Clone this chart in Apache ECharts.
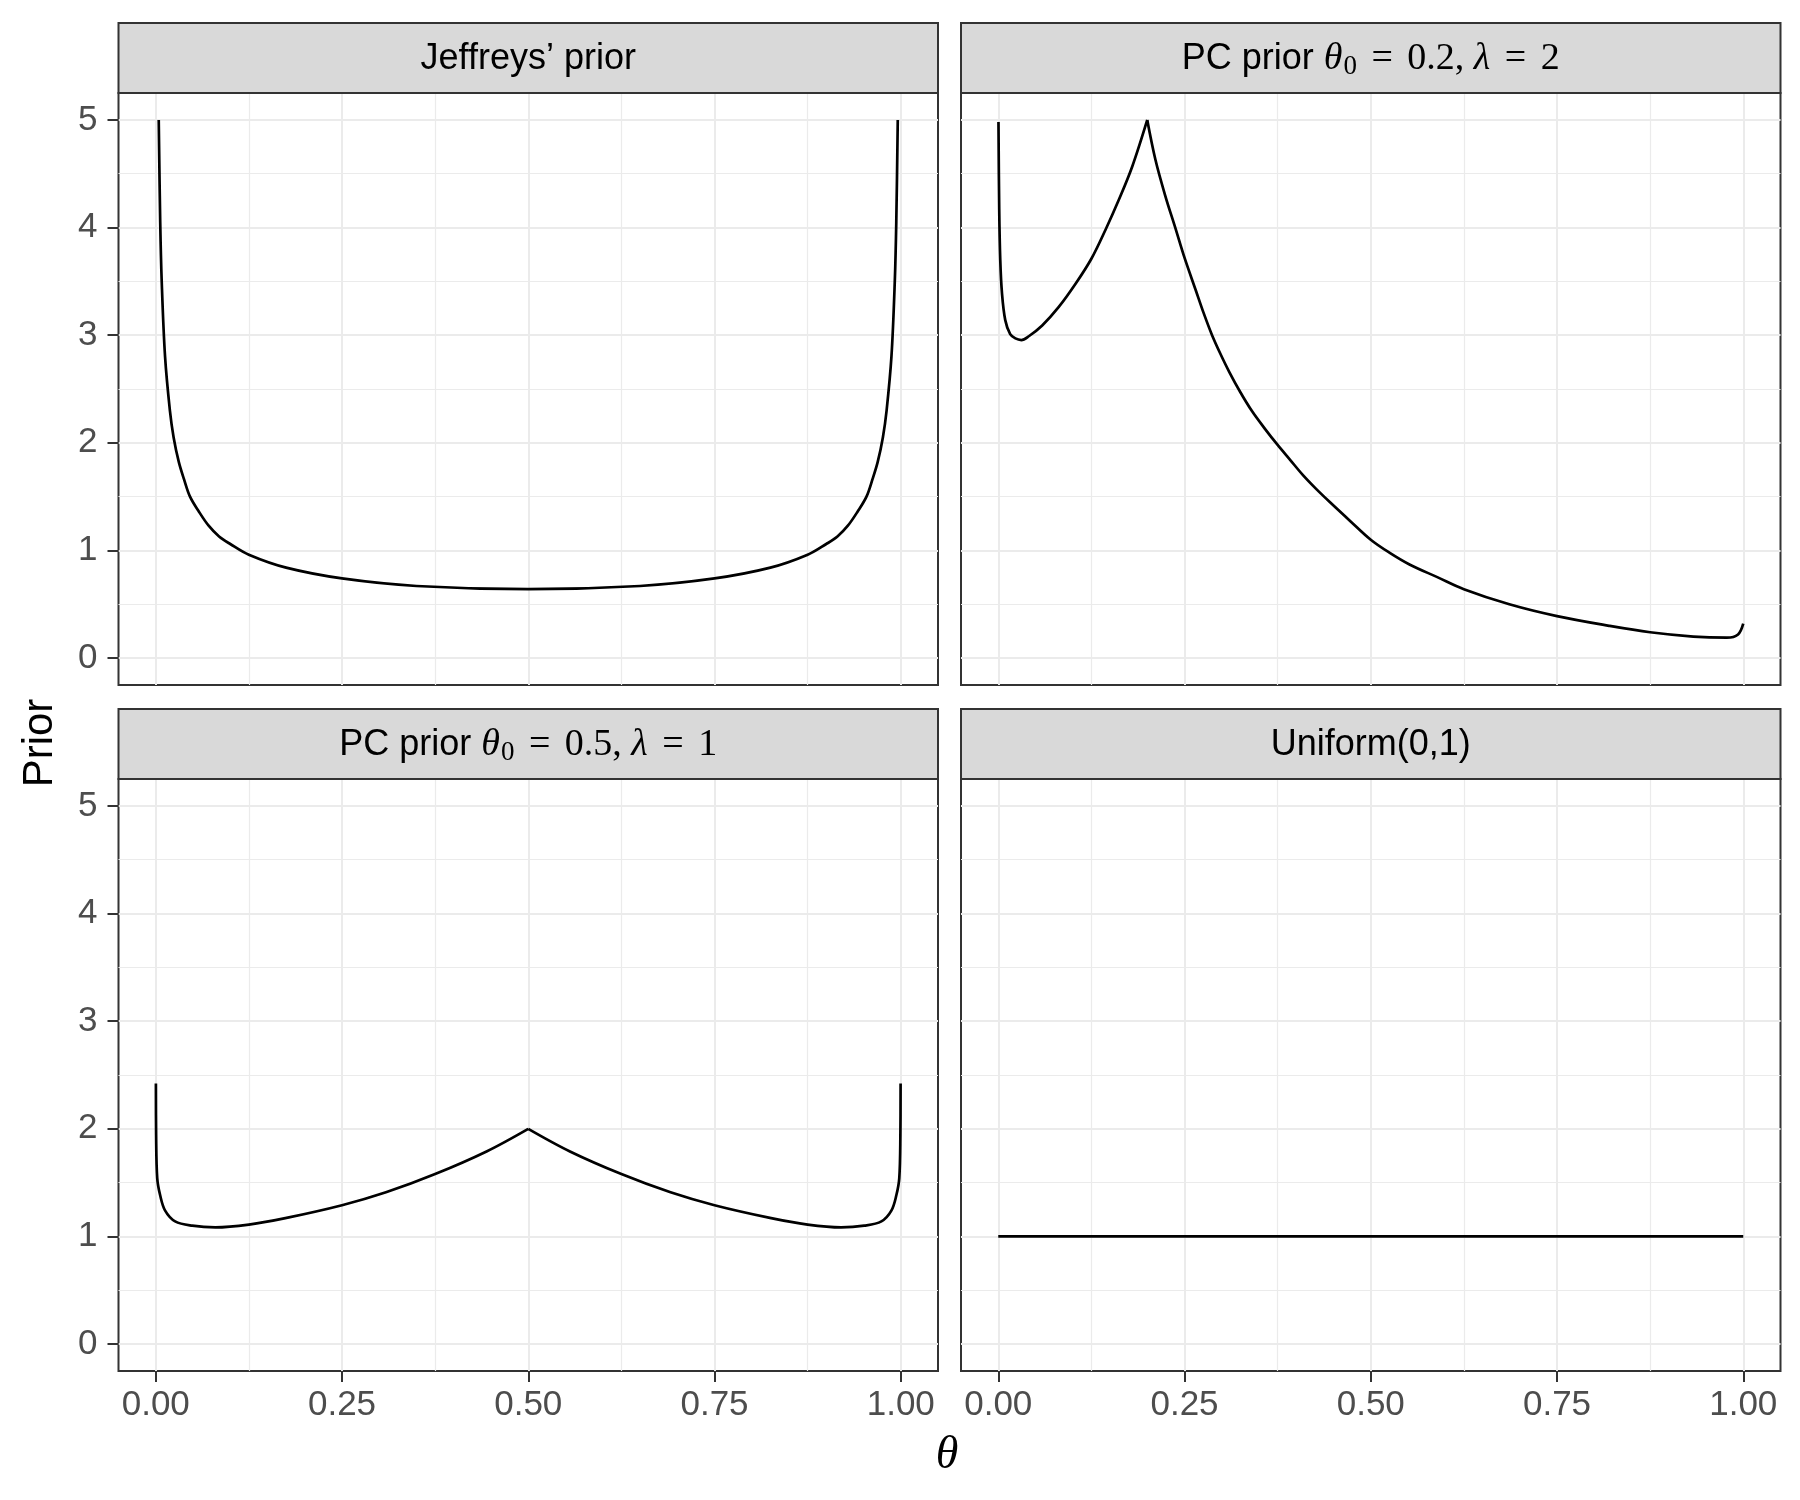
<!DOCTYPE html>
<html>
<head>
<meta charset="utf-8">
<script src="https://cdn.jsdelivr.net/npm/echarts@6/dist/echarts.min.js"></script>
<style>
  html, body { margin: 0; padding: 0; background: #fff; }
  #main { width: 1800px; height: 1500px; }
</style>
</head>
<body>
<div id="main"></div>
<script>
// values
var jeffreysTheta = [0.004, 0.006, 0.008, 0.0125, 0.019, 0.024, 0.031, 0.038, 0.046, 0.058, 0.071, 0.085, 0.10, 0.125, 0.175,
  0.25, 0.35, 0.5, 0.65, 0.75, 0.825, 0.875, 0.90, 0.915, 0.929, 0.942, 0.954, 0.962, 0.969, 0.976, 0.981, 0.9875, 0.992, 0.994, 0.996];
var jeffreysPrior = [5.0, 4.05, 3.5, 2.8, 2.3, 2.05, 1.82, 1.66, 1.5, 1.36, 1.23, 1.13, 1.06, 0.96, 0.84,
  0.74, 0.67, 0.64, 0.67, 0.74, 0.84, 0.96, 1.06, 1.13, 1.23, 1.36, 1.5, 1.66, 1.82, 2.05, 2.3, 2.8, 3.5, 4.05, 5.0];

var pc02LeftTheta = [0.0003, 0.0013, 0.0027, 0.005, 0.0094, 0.016, 0.023, 0.031, 0.041, 0.059, 0.081, 0.104,
  0.125, 0.144, 0.162, 0.180, 0.2];
var pc02LeftPrior = [4.98, 4.17, 3.70, 3.39, 3.14, 3.01, 2.97, 2.955, 2.99, 3.09, 3.26, 3.48,
  3.71, 3.98, 4.26, 4.57, 5.0];
var pc02RightTheta = [0.2, 0.211, 0.224, 0.238, 0.25, 0.265, 0.276, 0.287, 0.298, 0.31, 0.325, 0.341, 0.358, 0.375, 0.392,
  0.409, 0.427, 0.445, 0.473, 0.5, 0.525, 0.552, 0.59, 0.625, 0.686, 0.75, 0.82, 0.875, 0.933, 0.978, 0.993, 1.0];
var pc02RightPrior = [5.0, 4.63, 4.30, 3.99, 3.72, 3.42, 3.20, 3.0, 2.83, 2.66, 2.47, 2.29, 2.13, 1.98, 1.84,
  1.70, 1.57, 1.45, 1.27, 1.10, 0.98, 0.87, 0.75, 0.64, 0.50, 0.39, 0.30, 0.24, 0.20, 0.19, 0.22, 0.32];

var pc05LeftTheta = [0.0002, 0.0005, 0.002, 0.006, 0.0126, 0.026, 0.049, 0.08, 0.125, 0.174, 0.25, 0.309, 0.375, 0.444, 0.5];
var pc05LeftPrior = [2.42, 1.94, 1.54, 1.38, 1.24, 1.14, 1.10, 1.084, 1.11, 1.17, 1.29, 1.41, 1.58, 1.79, 2.0];
var pc05RightTheta = [0.5, 0.556, 0.625, 0.691, 0.75, 0.826, 0.875, 0.92, 0.951, 0.974, 0.9874, 0.994, 0.998, 0.9995, 0.9998];
var pc05RightPrior = [2.0, 1.79, 1.58, 1.41, 1.29, 1.17, 1.11, 1.084, 1.10, 1.14, 1.24, 1.38, 1.54, 1.94, 2.42];

var uniformTheta = [0, 1];
var uniformPrior = [1, 1];

var xMajorTicks = [0, 0.25, 0.5, 0.75, 1];
var xMinorTicks = [0.125, 0.375, 0.625, 0.875];
var yMajorTicks = [0, 1, 2, 3, 4, 5];
var yMinorTicks = [0.5, 1.5, 2.5, 3.5, 4.5];

function pairs(xs, ys) {
  return xs.map(function (x, i) { return [x, ys[i]]; });
}

// panel boxes (left, top of plotting area)
var panels = [
  { left: 118.5, top: 93, labelsX: false, labelsY: true },
  { left: 961, top: 93, labelsX: false, labelsY: false },
  { left: 118.5, top: 779, labelsX: true, labelsY: true },
  { left: 961, top: 779, labelsX: true, labelsY: false }
];
var panelW = 819.5, panelH = 592, stripH = 70;

var tickFont = { color: '#4D4D4D', fontSize: 35, fontFamily: 'Liberation Sans' };

var grids = [], xAxes = [], yAxes = [];
panels.forEach(function (p, i) {
  grids.push({
    left: p.left, top: p.top, width: panelW, height: panelH,
    show: true, backgroundColor: '#fff', borderColor: '#333333', borderWidth: 2
  });
  xAxes.push({
    type: 'value', gridIndex: i, min: -0.05, max: 1.05, position: 'bottom',
    axisLine: { show: false, onZero: false },
    axisTick: { show: p.labelsX, customValues: xMajorTicks, length: 11, lineStyle: { color: '#333333', width: 2 } },
    axisLabel: Object.assign({ show: p.labelsX, customValues: xMajorTicks, margin: 17,
      formatter: function (v) { return v.toFixed(2); } }, tickFont),
    splitLine: { show: true, lineStyle: { color: '#EBEBEB', width: 2 } }
  });
  xAxes.push({
    type: 'value', gridIndex: i, min: -0.05, max: 1.05, position: 'bottom',
    axisLine: { show: false, onZero: false },
    axisTick: { show: false, customValues: xMinorTicks },
    axisLabel: { show: false, customValues: xMinorTicks },
    splitLine: { show: true, lineStyle: { color: '#EBEBEB', width: 1.2 } }
  });
  yAxes.push({
    type: 'value', gridIndex: i, min: -0.25, max: 5.25, position: 'left',
    axisLine: { show: false, onZero: false },
    axisTick: { show: p.labelsY, customValues: yMajorTicks, length: 11, lineStyle: { color: '#333333', width: 2 } },
    axisLabel: Object.assign({ show: p.labelsY, customValues: yMajorTicks, margin: 21 }, tickFont),
    splitLine: { show: true, lineStyle: { color: '#EBEBEB', width: 2 } }
  });
  yAxes.push({
    type: 'value', gridIndex: i, min: -0.25, max: 5.25, position: 'left',
    axisLine: { show: false, onZero: false },
    axisTick: { show: false, customValues: yMinorTicks },
    axisLabel: { show: false, customValues: yMinorTicks },
    splitLine: { show: true, lineStyle: { color: '#EBEBEB', width: 1.2 } }
  });
});

function curve(panel, xs, ys) {
  return {
    type: 'line', xAxisIndex: panel * 2, yAxisIndex: panel * 2,
    data: pairs(xs, ys), showSymbol: false, smooth: 0.35,
    lineStyle: { color: '#000', width: 2.7 }, silent: true, z: 5
  };
}

var mathRich = {
  s: { fontFamily: 'Liberation Sans', fontSize: 36, color: '#1A1A1A' },
  m: { fontFamily: 'Liberation Serif', fontStyle: 'italic', fontSize: 38, color: '#1A1A1A' },
  sub: { fontFamily: 'Liberation Serif', fontSize: 27, color: '#1A1A1A', padding: [16, 0, 0, 1] },
  r: { fontFamily: 'Liberation Serif', fontSize: 38, color: '#1A1A1A' },
  eq: { fontFamily: 'Liberation Serif', fontSize: 38, color: '#1A1A1A', padding: [0, 5, 0, 5] }
};
var stripTexts = [
  '{s|Jeffreys’ prior}',
  '{s|PC prior }{m|θ}{sub|0}{eq| = }{r|0.2, }{m|λ}{eq| = }{r|2}',
  '{s|PC prior }{m|θ}{sub|0}{eq| = }{r|0.5, }{m|λ}{eq| = }{r|1}',
  '{s|Uniform(0,1)}'
];

var graphics = [];
panels.forEach(function (p, i) {
  graphics.push({
    type: 'rect', shape: { x: p.left, y: p.top - stripH, width: panelW, height: stripH },
    style: { fill: '#D9D9D9', stroke: '#333333', lineWidth: 2 }, z: 10
  });
  graphics.push({
    type: 'text', x: p.left + panelW / 2, y: p.top - stripH / 2 + 1, z: 11,
    style: { text: stripTexts[i], rich: mathRich, align: 'center', verticalAlign: 'middle' }
  });
});
graphics.push({
  type: 'text', x: 40, y: 743, rotation: Math.PI / 2,
  style: { text: 'Prior', fontFamily: 'Liberation Sans', fontSize: 42, fill: '#000', align: 'center', verticalAlign: 'middle' }
});
graphics.push({
  type: 'text', x: 947, y: 1456,
  style: { text: 'θ', fontFamily: 'Liberation Serif', fontStyle: 'italic', fontSize: 46, fill: '#000', align: 'center', verticalAlign: 'middle' }
});

var chart = echarts.init(document.getElementById('main'));
chart.setOption({
  animation: false,
  backgroundColor: '#fff',
  grid: grids,
  xAxis: xAxes,
  yAxis: yAxes,
  graphic: graphics,
  series: [
    curve(0, jeffreysTheta, jeffreysPrior),
    curve(1, pc02LeftTheta, pc02LeftPrior),
    curve(1, pc02RightTheta, pc02RightPrior),
    curve(2, pc05LeftTheta, pc05LeftPrior),
    curve(2, pc05RightTheta, pc05RightPrior),
    curve(3, uniformTheta, uniformPrior)
  ]
});
</script>
</body>
</html>
